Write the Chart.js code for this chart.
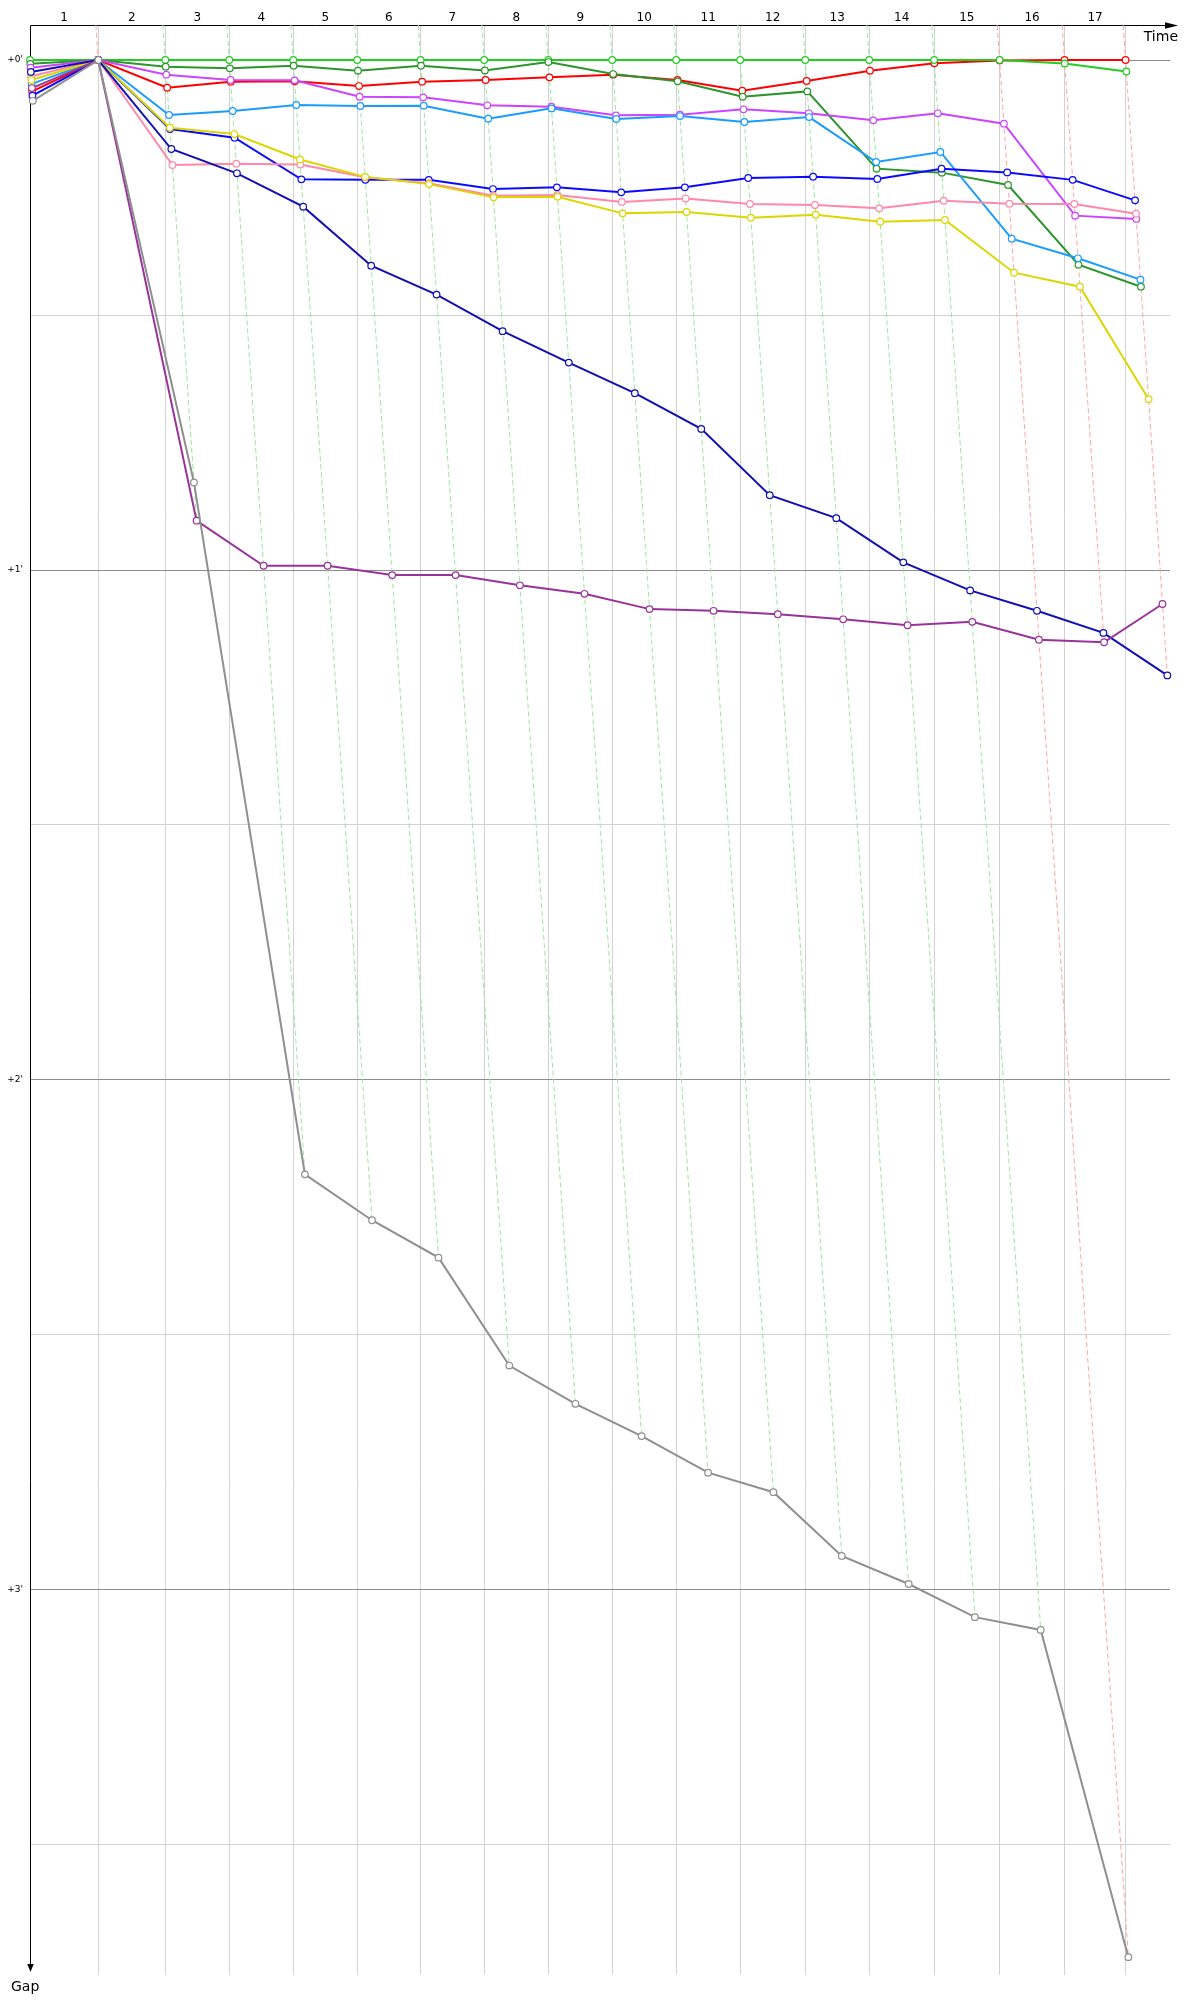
<!DOCTYPE html>
<html lang="en">
<head>
  <meta charset="UTF-8">
  <title>Gap chart</title>
  <script src="https://cdn.jsdelivr.net/npm/chart.js"></script>
  <style>
    body { margin: 0; background: #fff; }
    canvas { display: block; }
  </style>
</head>
<body>
  <canvas id="gapChart" width="1200" height="2000"></canvas>

  <script>
    // lap numbers along the top axis
    const lapLabels = ['1', '2', '3', '4', '5', '6', '7', '8', '9', '10', '11', '12', '13', '14', '15', '16', '17'];
    // race time (s) when the leader completed each lap
    const leaderLapTimes = [118.4, 234.5, 345.4, 456.3, 567.2, 677.1, 787.3, 898.3, 1009.2, 1120.1, 1231.0, 1343.7, 1454.6, 1567.2, 1680.6, 1793.2, 1899.0];
    // gap to the leader (s): index 0 = start, then after each lap
    const greenGaps     = [0, 0, 0, 0, 0, 0, 0, 0, 0, 0, 0, 0, 0, 0, 0, 0, 0.4, 1.35];
    const redGaps       = [3.7, 0, 3.25, 2.55, 2.51, 3.06, 2.55, 2.35, 2.04, 1.73, 2.35, 3.61, 2.47, 1.25, 0.39, 0.05, 0, 0];
    const darkGreenGaps = [0.45, 0, 0.78, 0.98, 0.67, 1.25, 0.67, 1.22, 0.24, 1.65, 2.51, 4.31, 3.69, 12.78, 13.25, 14.7, 24.08, 26.67];
    const violetGaps    = [0.9, 0, 1.73, 2.35, 2.39, 4.31, 4.39, 5.33, 5.49, 6.51, 6.43, 5.8, 6.27, 7.1, 6.27, 7.49, 18.31, 18.7];
    const skyGaps       = [2.8, 0, 6.47, 6.0, 5.29, 5.41, 5.37, 6.9, 5.69, 6.94, 6.59, 7.29, 6.71, 12.0, 10.82, 21.02, 23.33, 25.84];
    const blueGaps      = [4.2, 0, 8.12, 9.14, 14.04, 14.1, 14.1, 15.18, 14.98, 15.57, 14.98, 13.88, 13.73, 14.0, 12.78, 13.22, 14.1, 16.51];
    const pinkGaps      = [1.9, 0, 12.35, 12.2, 12.3, 13.8, 14.5, 15.96, 15.88, 16.7, 16.3, 16.94, 17.06, 17.45, 16.55, 16.9, 16.94, 18.08];
    const yellowGaps    = [2.35, 0, 7.96, 8.71, 11.7, 13.75, 14.6, 16.16, 16.08, 18.04, 17.88, 18.55, 18.2, 19.02, 18.82, 25.02, 26.67, 39.9];
    const navyGaps      = [1.4, 0, 10.47, 13.33, 17.25, 24.2, 27.6, 31.9, 35.6, 39.2, 43.4, 51.2, 53.9, 59.1, 62.4, 64.8, 67.4, 72.4];
    const purpleGaps    = [3.3, 0, 54.2, 59.5, 59.5, 60.6, 60.6, 61.8, 62.8, 64.6, 64.8, 65.2, 65.8, 66.5, 66.1, 68.2, 68.5, 64.0];
    const greyGaps      = [4.8, 0, 49.7, 131.1, 136.5, 140.9, 153.6, 158.1, 161.9, 166.2, 168.5, 176, 179.3, 183.2, 184.7, 223.2];
    // laps whose iso-lap line is drawn red instead of green
    const redLaps = [1, 15, 16, 17];
    // y ticks (s): labels on full minutes
    const gapTicks = [0, 30, 60, 90, 120, 150, 180, 210];

    const gapMin = -4.12;
    const gapMax = 225.3;
    const timeMax = 1976;

    // top of the list is drawn on top
    const series = [
      { gaps: greyGaps, color: '#8f8f8f' },
      { gaps: purpleGaps, color: '#993399' },
      { gaps: navyGaps, color: '#0f0fb4' },
      { gaps: yellowGaps, color: '#dcd600' },
      { gaps: pinkGaps, color: '#ff88aa' },
      { gaps: blueGaps, color: '#0a0aff' },
      { gaps: skyGaps, color: '#1a9cff' },
      { gaps: violetGaps, color: '#cc44ff' },
      { gaps: darkGreenGaps, color: '#2c952c' },
      { gaps: greenGaps, color: '#22cc22' },
      { gaps: redGaps, color: '#ff0000' }
    ];

    const lapStart = [0].concat(leaderLapTimes);

    const datasets = series.map(s => ({
      data: s.gaps.map((g, lap) => ({ x: lapStart[lap] + g, y: g })),
      borderColor: s.color,
      backgroundColor: '#fff',
      borderWidth: 2,
      pointRadius: 3.3,
      pointBorderWidth: 1.2,
      pointBackgroundColor: '#fff',
      pointBorderColor: s.color,
      tension: 0,
      clip: false
    }));

    // iso-lap lines: from the top of the plot down to the last car on that lap
    leaderLapTimes.forEach((t, i) => {
      const lap = i + 1;
      const gaps = series.filter(s => s.gaps.length > lap).map(s => s.gaps[lap]);
      const worst = Math.max(...gaps);
      const red = redLaps.includes(lap);
      datasets.push({
        data: [{ x: t + gapMin, y: gapMin }, { x: t + worst, y: worst }],
        borderColor: red ? '#ffa4a4' : '#9be69b',
        borderWidth: 1,
        borderDash: [5, 3],
        pointRadius: 0,
        tension: 0,
        clip: false
      });
    });

    const lapMids = leaderLapTimes.map((t, i) => (lapStart[i] + t) / 2);

    const axesPlugin = {
      id: 'axes',
      beforeDatasetsDraw(chart) {
        const { ctx, chartArea: a } = chart;
        ctx.save();
        ctx.strokeStyle = '#000';
        ctx.fillStyle = '#000';
        ctx.lineWidth = 1;
        ctx.beginPath();
        ctx.moveTo(a.left + 0.5, a.top + 0.5);
        ctx.lineTo(a.right + 1, a.top + 0.5);
        ctx.moveTo(a.left + 0.5, a.top + 0.5);
        ctx.lineTo(a.left + 0.5, a.bottom - 8);
        ctx.stroke();
        // arrow heads
        ctx.beginPath();
        ctx.moveTo(a.right + 8, a.top + 0.5);
        ctx.lineTo(a.right - 5, a.top - 2.7);
        ctx.lineTo(a.right - 5, a.top + 3.7);
        ctx.closePath();
        ctx.fill();
        ctx.beginPath();
        ctx.moveTo(a.left + 0.5, a.bottom - 3);
        ctx.lineTo(a.left - 2.7, a.bottom - 11);
        ctx.lineTo(a.left + 3.7, a.bottom - 11);
        ctx.closePath();
        ctx.fill();
        ctx.font = '14px "DejaVu Sans"';
        ctx.textAlign = 'right';
        ctx.textBaseline = 'alphabetic';
        ctx.fillText('Time', a.right + 8, a.top + 16);
        ctx.textAlign = 'left';
        ctx.fillText('Gap', 11, a.bottom + 16);
        ctx.restore();
      }
    };

    Chart.defaults.font.family = '"DejaVu Sans", sans-serif';
    Chart.defaults.color = '#000';

    new Chart(document.getElementById('gapChart'), {
      type: 'line',
      data: { datasets },
      plugins: [axesPlugin],
      options: {
        responsive: false,
        animation: false,
        devicePixelRatio: 1,
        layout: { padding: { left: 0, top: 0, right: 30, bottom: 25 } },
        plugins: {
          legend: { display: false },
          tooltip: { enabled: false }
        },
        scales: {
          x: {
            type: 'linear',
            position: 'bottom',
            min: 0,
            max: timeMax,
            afterBuildTicks: s => { s.ticks = leaderLapTimes.map(v => ({ value: v })); },
            afterFit: s => { s.height = 0; },
            ticks: { display: false },
            grid: { color: '#d2d2d2', lineWidth: 1, drawTicks: false },
            border: { display: false }
          },
          xTop: {
            type: 'linear',
            axis: 'x',
            position: 'top',
            min: 0,
            max: timeMax,
            afterBuildTicks: s => { s.ticks = lapMids.map(v => ({ value: v })); },
            afterFit: s => { s.height = 25; },
            ticks: {
              callback: (v, i) => lapLabels[i],
              font: { size: 12 },
              padding: 0,
              autoSkip: false,
              maxRotation: 0
            },
            grid: { display: false, drawTicks: false },
            border: { display: false }
          },
          y: {
            type: 'linear',
            reverse: true,
            min: gapMin,
            max: gapMax,
            afterBuildTicks: s => { s.ticks = gapTicks.map(v => ({ value: v })); },
            afterFit: s => { s.width = 30; },
            ticks: {
              callback: v => (v % 60 === 0 ? '+' + (v / 60) + "'" : ''),
              font: { size: 9 },
              padding: 7,
              autoSkip: false
            },
            grid: {
              color: c => (c.tick && c.tick.value % 60 === 0 ? '#8c8c8c' : '#d2d2d2'),
              lineWidth: 1,
              drawTicks: false
            },
            border: { display: false }
          }
        }
      }
    });
  </script>
</body>
</html>
